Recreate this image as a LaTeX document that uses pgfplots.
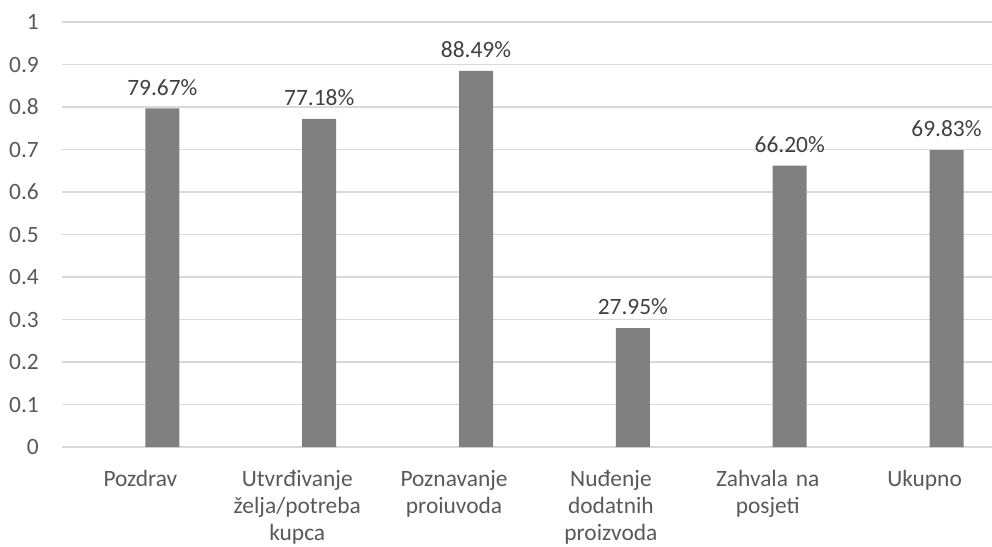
\documentclass[border=0pt]{standalone}
\usepackage{pgfplots}
\pgfplotsset{compat=1.18}
\usepackage{fontspec}
\setmainfont{Carlito}
\definecolor{bargray}{HTML}{808080}
\definecolor{gridgray}{HTML}{D9D9D9}
\definecolor{txt}{HTML}{595959}
\definecolor{lbl}{HTML}{404040}
\begin{document}
\begin{tikzpicture}
\begin{axis}[
  scale only axis,
  width=930bp, height=425bp,
  xmin=-0.5, xmax=5.43, ymin=0, ymax=1,
  axis line style={draw=none},
  major tick style={draw=none},
  ymajorgrids,
  grid style={draw=gridgray, line width=1.3bp},
  ytick={0,0.1,0.2,0.3,0.4,0.5,0.6,0.7,0.8,0.9,1},
  yticklabels={0,0.1,0.2,0.3,0.4,0.5,0.6,0.7,0.8,0.9,1},
  xtick={0,1,2,3,4,5},
  xticklabels={Pozdrav,{Utvrđivanje\\želja/potreba\\kupca},{Poznavanje\\proiuvoda},{Nuđenje\\dodatnih\\proizvoda},{Zahvala na\\posjeti},Ukupno},
  every tick label/.append style={font=\fontsize{23.5}{27}\selectfont, text=txt},
  yticklabel style={anchor=east, inner sep=0pt, xshift=-23bp},
  xticklabel style={anchor=north, inner sep=0pt, yshift=-19bp, text width=170bp, align=center},
  ybar, bar width=34bp, bar shift=0pt,
  clip=false,
]
\addplot[fill=bargray, draw=none,
  nodes near coords, point meta=explicit symbolic,
  every node near coord/.append style={font=\fontsize{23.5}{27}\selectfont, text=lbl, anchor=south, inner sep=0pt, yshift=13bp}]
  coordinates {
    (0.14,0.7967) [79.67\%]
    (1.14,0.7718) [77.18\%]
    (2.14,0.8849) [88.49\%]
    (3.14,0.2795) [27.95\%]
    (4.14,0.6620) [66.20\%]
    (5.14,0.6983) [69.83\%]
  };
\end{axis}
\pgfresetboundingbox
\path ([xshift=-62bp,yshift=-100bp]current axis.south west) rectangle ([yshift=22bp]current axis.north east);
\end{tikzpicture}
\end{document}
